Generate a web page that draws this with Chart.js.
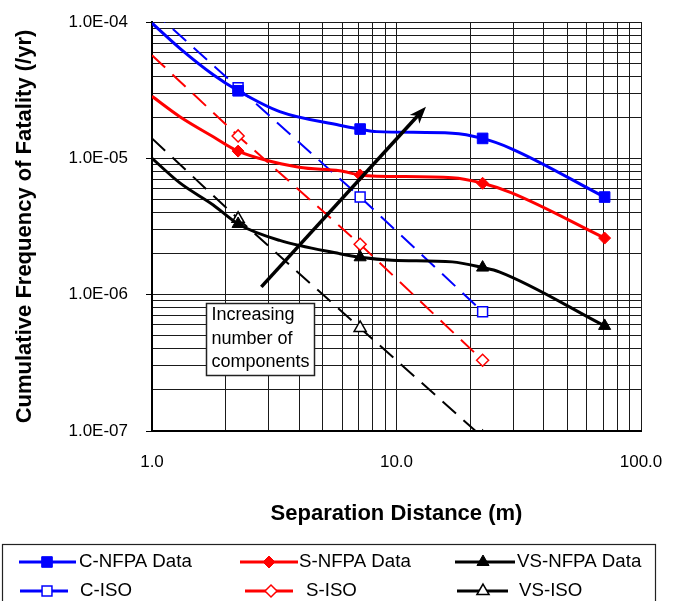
<!DOCTYPE html>
<html>
<head>
<meta charset="utf-8">
<script src="https://cdn.jsdelivr.net/npm/chart.js@4.4.1/dist/chart.umd.min.js"></script>
<style>
  html, body { margin: 0; padding: 0; background: #fff; }
</style>
</head>
<body>
<canvas id="myChart" width="675" height="601"></canvas>
<script>
// axis ticks
const xTickValues = [1, 10, 100];
const xTickLabels = ["1.0", "10.0", "100.0"];
const yTickValues = [1e-7, 1e-6, 1e-5, 1e-4];
const yTickLabels = ["1.0E-07", "1.0E-06", "1.0E-05", "1.0E-04"];

const seriesNames = ["C-NFPA Data", "S-NFPA Data", "VS-NFPA Data", "C-ISO", "S-ISO", "VS-ISO"];

// NFPA data points
const nfpaDist = [2.25, 7.1, 22.5, 71];
const cNfpaFreq = [3.13e-5, 1.64e-5, 1.40e-5, 5.2e-6];
const sNfpaFreq = [1.13e-5, 7.55e-6, 6.56e-6, 2.6e-6];
const vsNfpaFreq = [3.3e-6, 1.88e-6, 1.58e-6, 5.9e-7];

// smoothed curves drawn through the NFPA data
const cCurveDist = [1, 1.3, 1.78, 2.25, 3.33, 5.85, 7.1, 8.3, 16.9, 22.5, 29.4, 71];
const cCurveFreq = [9.8e-5, 6.4e-5, 4.1e-5, 3.13e-5, 2.2e-5, 1.75e-5, 1.64e-5, 1.57e-5, 1.53e-5, 1.40e-5, 1.18e-5, 5.2e-6];
const sCurveDist = [1, 1.3, 1.78, 2.25, 4.0, 5.85, 7.1, 8.3, 16.9, 22.5, 29.4, 71];
const sCurveFreq = [2.85e-5, 2.02e-5, 1.44e-5, 1.13e-5, 8.6e-6, 8.1e-6, 7.55e-6, 7.4e-6, 7.2e-6, 6.56e-6, 5.6e-6, 2.6e-6];
const vsCurveDist = [1, 1.3, 1.78, 2.25, 3.33, 5.85, 7.1, 9.6, 16.9, 22.5, 26.3, 71];
const vsCurveFreq = [1.0e-5, 6.6e-6, 4.55e-6, 3.3e-6, 2.5e-6, 2.0e-6, 1.88e-6, 1.79e-6, 1.74e-6, 1.58e-6, 1.47e-6, 5.9e-7];

// ISO lines
const isoDist = [1, 2.25, 7.1, 22.5];
const cIsoFreq = [1.22e-4, 3.3e-5, 5.2e-6, 7.5e-7];
const sIsoFreq = [5.7e-5, 1.46e-5, 2.34e-6, 3.3e-7];
const vsIsoFreq = [1.4e-5, 3.6e-6, 5.7e-7, 9e-8];

// annotation
const arrowFrom = [2.8, 1.14e-6];
const arrowTo = [13.2, 2.39e-5];
const noteAt = [1.661, 8.68e-7];
const noteLines = ["Increasing", "number of", "components"];

const BLUE = "#0000FF", RED = "#FF0000", BLACK = "#000000";
const FONT = "'Liberation Sans', Arial, Helvetica, sans-serif";

function pts(xs, ys) { return xs.map((x, i) => ({x: x, y: ys[i]})); }

function logGrid(min, max) {
  const t = [];
  const e0 = Math.round(Math.log10(min)), e1 = Math.round(Math.log10(max));
  for (let e = e0; e < e1; e++) {
    for (let k = 1; k < 10; k++) t.push({value: Number((k * Math.pow(10, e)).toPrecision(4)), major: k === 1});
  }
  t.push({value: max, major: true});
  return t;
}

function labelFor(values, labels) {
  return function (v) {
    for (let i = 0; i < values.length; i++) if (Math.abs(v / values[i] - 1) < 1e-6) return labels[i];
    return "";
  };
}

function curve(xs, ys, color, label) {
  return {label: label, data: pts(xs, ys), showLine: true, borderColor: color, borderWidth: 3,
    pointRadius: 0, cubicInterpolationMode: "monotone", order: 2};
}
function markers(ys, color, style, r, label) {
  return {label: label, data: pts(nfpaDist, ys), showLine: false, pointStyle: style, pointRadius: r,
    pointBackgroundColor: color, pointBorderColor: color, pointBorderWidth: 1, order: 1};
}
function iso(ys, color, style, r, label) {
  return {label: label, data: pts(isoDist, ys), showLine: true, borderColor: color, borderWidth: 2,
    borderDash: [18, 10], pointStyle: style, pointRadius: isoDist.map(d => d === 1 ? 0 : r),
    pointBackgroundColor: "#fff", pointBorderColor: color, pointBorderWidth: 1.5, order: 3};
}

const datasets = [
  iso(cIsoFreq, BLUE, "rect", 7, seriesNames[3]),
  iso(sIsoFreq, RED, "rectRot", 6, seriesNames[4]),
  iso(vsIsoFreq, BLACK, "triangle", 7, seriesNames[5]),
  curve(cCurveDist, cCurveFreq, BLUE, "c-curve"),
  curve(sCurveDist, sCurveFreq, RED, "s-curve"),
  curve(vsCurveDist, vsCurveFreq, BLACK, "vs-curve"),
  markers(cNfpaFreq, BLUE, "rect", 7.5, seriesNames[0]),
  markers(sNfpaFreq, RED, "rectRot", 6, seriesNames[1]),
  markers(vsNfpaFreq, BLACK, "triangle", 7, seriesNames[2])
];

// legend slots: [line start, line end, marker x, text x, row y]
const legendSlots = {
  "C-NFPA Data": [19, 76, 47, 79, 562],
  "S-NFPA Data": [240, 298, 269, 299, 562],
  "VS-NFPA Data": [455, 515, 483, 517, 562],
  "C-ISO": [20, 68, 47, 80, 591],
  "S-ISO": [245, 293, 271, 306, 591],
  "VS-ISO": [457, 508, 483, 519, 591]
};

const annotationPlugin = {
  id: "annot",
  afterDatasetsDraw(chart) {
    const ctx = chart.ctx, xs = chart.scales.x, ys = chart.scales.y;
    const x0 = xs.getPixelForValue(arrowFrom[0]), y0 = ys.getPixelForValue(arrowFrom[1]);
    const x1 = xs.getPixelForValue(arrowTo[0]), y1 = ys.getPixelForValue(arrowTo[1]);
    const a = Math.atan2(y1 - y0, x1 - x0), c = Math.cos(a), s = Math.sin(a);
    const hl = 17, hw = 6.5;
    ctx.save();
    ctx.strokeStyle = BLACK; ctx.fillStyle = BLACK; ctx.lineWidth = 3.5;
    ctx.beginPath(); ctx.moveTo(x0, y0); ctx.lineTo(x1 - hl * 0.7 * c, y1 - hl * 0.7 * s); ctx.stroke();
    ctx.beginPath();
    ctx.moveTo(x1, y1);
    ctx.lineTo(x1 - hl * c + hw * s, y1 - hl * s - hw * c);
    ctx.lineTo(x1 - hl * 0.72 * c, y1 - hl * 0.72 * s);
    ctx.lineTo(x1 - hl * c - hw * s, y1 - hl * s + hw * c);
    ctx.closePath(); ctx.fill();

    const bx = Math.round(xs.getPixelForValue(noteAt[0])) + 0.5;
    const by = Math.round(ys.getPixelForValue(noteAt[1])) + 0.5;
    ctx.fillStyle = "#fff"; ctx.fillRect(bx, by, 108, 72);
    ctx.lineWidth = 1.5; ctx.strokeStyle = "#222"; ctx.strokeRect(bx, by, 108, 72);
    ctx.fillStyle = BLACK; ctx.font = "18px " + FONT; ctx.textAlign = "left"; ctx.textBaseline = "middle";
    noteLines.forEach((t, i) => ctx.fillText(t, bx + 5, by + 12 + i * 23.5));
    ctx.restore();
  }
};

const legendPlugin = {
  id: "boxLegend",
  afterDraw(chart) {
    const ctx = chart.ctx;
    ctx.save();
    ctx.lineWidth = 1.2; ctx.strokeStyle = "#222";
    ctx.strokeRect(2.5, 544.5, 653, 80);
    chart.data.datasets.forEach(ds => {
      const slot = legendSlots[ds.label];
      if (!slot) return;
      const [l0, l1, mx, tx, ty] = slot;
      ctx.strokeStyle = ds.pointBorderColor;
      ctx.lineWidth = 3;
      ctx.setLineDash([]);
      ctx.beginPath(); ctx.moveTo(l0, ty); ctx.lineTo(l1, ty); ctx.stroke();
      ctx.fillStyle = ds.pointBackgroundColor;
      ctx.lineWidth = ds.pointBorderWidth;
      const r = Array.isArray(ds.pointRadius) ? ds.pointRadius[1] : ds.pointRadius;
      Chart.helpers.drawPoint(ctx, {pointStyle: ds.pointStyle, radius: r, rotation: 0, borderWidth: ds.pointBorderWidth}, mx, ty);
      ctx.fillStyle = BLACK; ctx.font = "18.7px " + FONT; ctx.textAlign = "left"; ctx.textBaseline = "middle";
      ctx.fillText(ds.label, tx, ty);
    });
    ctx.restore();
  }
};

Chart.defaults.font.family = FONT;
Chart.defaults.color = "#000";

new Chart("myChart", {
  type: "scatter",
  data: {datasets: datasets},
  options: {
    responsive: false,
    animation: false,
    layout: {padding: {left: 0, right: 34, top: 22, bottom: 70}},
    plugins: {legend: {display: false}, tooltip: {enabled: false}},
    scales: {
      x: {
        type: "logarithmic", min: 1, max: 100,
        afterBuildTicks: s => { s.ticks = logGrid(1, 100); },
        afterFit: s => { s.height = 100; s.paddingLeft = 0; s.paddingRight = 0; },
        ticks: {callback: labelFor(xTickValues, xTickLabels), autoSkip: false, maxRotation: 0,
          padding: 21, font: {size: 17}, color: "#000"},
        grid: {color: "#1a1a1a", lineWidth: 1, drawTicks: false},
        border: {color: "#000", width: 2},
        title: {display: true, text: "Separation Distance (m)", font: {size: 22, weight: "bold"},
          color: "#000", padding: {top: 0, bottom: 4}}
      },
      y: {
        type: "logarithmic", min: 1e-7, max: 1e-4,
        afterBuildTicks: s => { s.ticks = logGrid(1e-7, 1e-4); },
        afterFit: s => { s.width = 152; s.paddingTop = 0; s.paddingBottom = 0; },
        ticks: {callback: labelFor(yTickValues, yTickLabels), autoSkip: false,
          padding: 18, font: {size: 17}, color: "#000"},
        grid: {color: "#1a1a1a", lineWidth: 1, tickLength: 6,
          tickColor: c => (c.tick && c.tick.major) ? "#000" : "rgba(0,0,0,0)"},
        border: {color: "#000", width: 2},
        title: {display: true, text: "Cumulative Frequency of Fatality (/yr)", font: {size: 22, weight: "bold"},
          color: "#000", padding: {top: 12, bottom: 0}}
      }
    }
  },
  plugins: [annotationPlugin, legendPlugin]
});
</script>
</body>
</html>
